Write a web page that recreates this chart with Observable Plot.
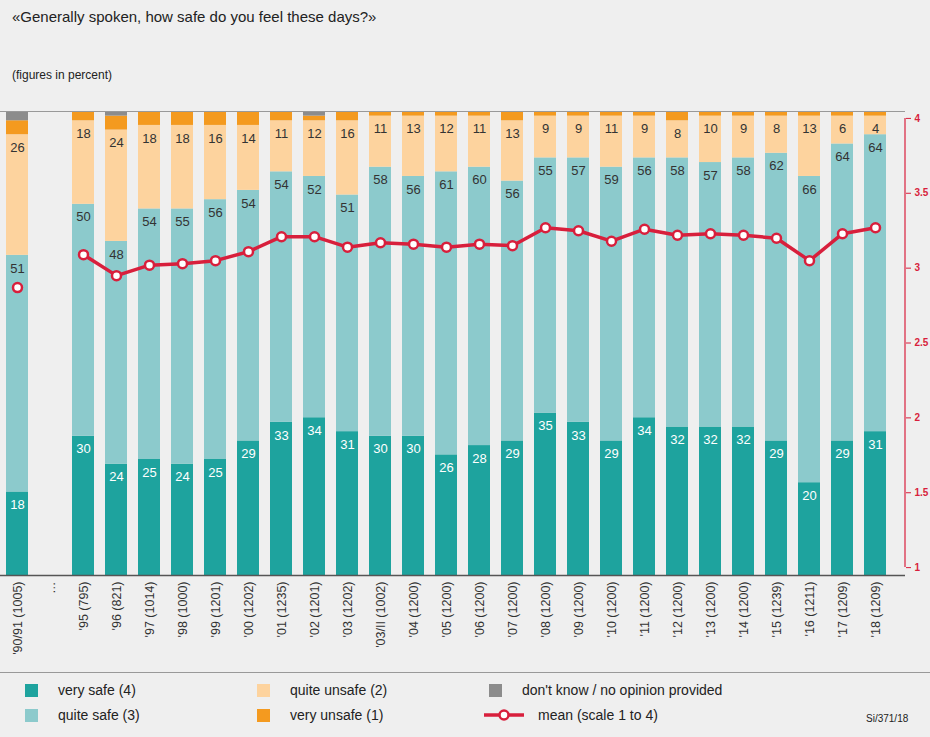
<!DOCTYPE html>
<html><head><meta charset="utf-8">
<script src="https://cdn.jsdelivr.net/npm/d3@7"></script>
<script src="https://cdn.jsdelivr.net/npm/@observablehq/plot@0.6"></script>
<style>
body{margin:0;background:#efefef;font-family:"Liberation Sans",Arial,sans-serif;color:#222;width:930px;height:737px;overflow:hidden}
#t{position:absolute;left:12px;top:8px;font-size:15px}
#s{position:absolute;left:12px;top:68px;font-size:12px}
#c{position:absolute;left:0;top:97px}
#lg{position:absolute;left:0;top:672px;width:930px;height:65px;border-top:1px solid #999}
.li{position:absolute;font-size:14px;display:flex;align-items:center}
.sw{width:13px;height:13px;margin-right:20px;display:inline-block}
</style></head><body>
<div id="t">«Generally spoken, how safe do you feel these days?»</div>
<div id="s">(figures in percent)</div>
<div id="c"></div>
<div id="lg"></div>
<script>
const cats=["'90/91 (1005)","…","'95 (795)","'96 (821)","'97 (1014)","'98 (1000)","'99 (1201)","'00 (1202)","'01 (1235)","'02 (1201)","'03 (1202)","'03/II (1002)","'04 (1200)","'05 (1200)","'06 (1200)","'07 (1200)","'08 (1200)","'09 (1200)","'10 (1200)","'11 (1200)","'12 (1200)","'13 (1200)","'14 (1200)","'15 (1239)","'16 (1211)","'17 (1209)","'18 (1209)"];
const veryS=[18,null,30,24,25,24,25,29,33,34,31,30,30,26,28,29,35,33,29,34,32,32,32,29,20,29,31];
const quiteS=[51,null,50,48,54,55,56,54,54,52,51,58,56,61,60,56,55,57,59,56,58,57,58,62,66,64,64];
const quiteU=[26,null,18,24,18,18,16,14,11,12,16,11,13,12,11,13,9,9,11,9,8,10,9,8,13,6,4];
const veryU=[3,null,2,3,3,3,3,3,2,1,2,1,1,1,1,2,1,1,1,1,2,1,1,1,1,1,1];
const dk=[2,null,0,1,0,0,0,0,0,1,0,0,0,0,0,0,0,0,0,0,0,0,0,0,0,0,0];
const mean=[2.87,null,3.09,2.95,3.02,3.03,3.05,3.11,3.21,3.21,3.14,3.17,3.16,3.14,3.16,3.15,3.27,3.25,3.18,3.26,3.22,3.23,3.22,3.2,3.05,3.23,3.27];
const meanTicks=[1,1.5,2,2.5,3,3.5,4];
const series=[["very safe (4)",veryS,"#1ea39e","#fff"],["quite safe (3)",quiteS,"#8ccacc","#333"],["quite unsafe (2)",quiteU,"#fdd39e","#333"],["very unsafe (1)",veryU,"#f49a1f",null],["don't know / no opinion provided",dk,"#8c8c8c",null]];
const rows=[];
cats.forEach((c,i)=>{let acc=0;series.forEach(([n,v,col,tc])=>{if(v[i]==null)return;rows.push({c,n,y1:acc,y2:acc+v[i],v:v[i],col,tc});acc+=v[i];});});
const m2p=m=>1.7+(m-1)*32.27;
const md=cats.map((c,i)=>({c,m:mean[i]})).filter(d=>d.m!=null);
const red="#d81f3c";
const plot=Plot.plot({
 width:930,height:573,marginTop:14,marginBottom:95,marginLeft:0,marginRight:25,
 style:{background:"transparent",fontFamily:"Liberation Sans, Arial, sans-serif"},
 x:{domain:cats,range:[-6,897],paddingInner:0.34,paddingOuter:0},
 y:{domain:[0,100]},
 marks:[
  Plot.rectY(rows,{x:"c",y1:"y1",y2:"y2",fill:"col"}),
  Plot.text(rows.filter(d=>d.tc),{x:"c",y:"y2",text:"v",fill:"tc",dy:13,fontSize:13}),
  Plot.line(md.slice(1),{x:"c",y:d=>m2p(d.m),stroke:red,strokeWidth:3.5}),
  Plot.dot(md,{x:"c",y:d=>m2p(d.m),r:4.5,fill:"#fff",stroke:red,strokeWidth:2.5}),
  Plot.ruleY([0],{stroke:"#555",strokeWidth:1.5}),
  Plot.ruleY([0],{stroke:"#999",dy:-464}),
  Plot.axisY(meanTicks.map(m2p),{anchor:"right",ticks:meanTicks.map(m2p),tickFormat:(d,i)=>meanTicks[i],stroke:red,color:red,fill:red,fontSize:10,fontWeight:"bold",tickSize:5,label:null}),
  Plot.axisX({tickRotate:-90,tickSize:0,tickPadding:6,fontSize:12.5,fill:"#333",label:null}),
 ]
});
const ys=plot.scale("y");
d3.select(plot).append("line").attr("x1",905).attr("x2",905).attr("y1",ys.apply(m2p(1))).attr("y2",ys.apply(m2p(4))).attr("stroke",red).attr("stroke-width",1.2);
document.getElementById("c").appendChild(plot);
const lg=document.getElementById("lg");
const items=[["very safe (4)","#1ea39e",33,17],["quite safe (3)","#8ccacc",33,42],["quite unsafe (2)","#fdd39e",265,17],["very unsafe (1)","#f49a1f",265,42],["don't know / no opinion provided","#8c8c8c",497,17]];
items.forEach(([n,c,x,y])=>{lg.insertAdjacentHTML("beforeend",`<div class="li" style="left:${x-8}px;top:${y-8}px"><span class="sw" style="background:${c}"></span>${n}</div>`)});
lg.insertAdjacentHTML("beforeend",`<div class="li" style="left:482px;top:34px"><svg width="44" height="14"><line x1="2" y1="7" x2="42" y2="7" stroke="${red}" stroke-width="3.5"/><circle cx="22" cy="7" r="4.5" fill="#fff" stroke="${red}" stroke-width="2.5"/></svg><span style="margin-left:12px">mean (scale 1 to 4)</span></div>`);
lg.insertAdjacentHTML("beforeend",`<div class="li" style="left:866px;top:40px;font-size:10px">Si/371/18</div>`);
</script></body></html>
